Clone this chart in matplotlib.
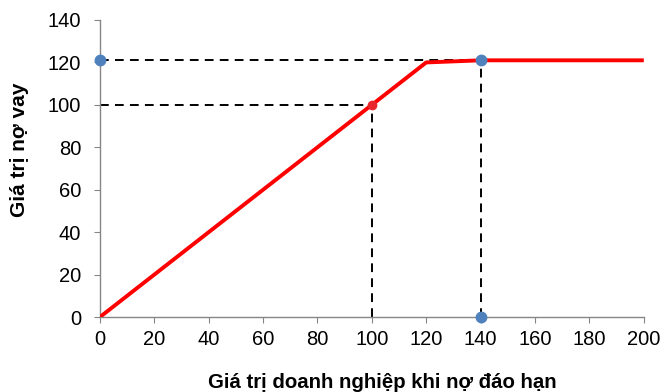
import matplotlib
matplotlib.use("Agg")
import matplotlib.pyplot as plt

plt.rcParams['font.family'] = ['Liberation Sans', 'DejaVu Sans']

line_x = [0, 120, 140, 200]
line_y = [0, 120, 121, 121]
blue_x = [0, 140, 140]
blue_y = [121, 121, 0]
red_pt = (100, 100)
guide_hi = 121
guide_lo = 100
x_ticks = [0, 20, 40, 60, 80, 100, 120, 140, 160, 180, 200]
y_ticks = [0, 20, 40, 60, 80, 100, 120, 140]

fig = plt.figure(figsize=(6.61, 3.92), dpi=100)
ax = fig.add_axes([0.151, 0.191, 0.823, 0.758])

dash = (0, (4.5, 3.2))
ax.plot([0, 140], [guide_hi, guide_hi], ls=dash, color='black', lw=1.4, zorder=2)
ax.plot([140, 140], [0, guide_hi], ls=dash, color='black', lw=1.4, zorder=2)
ax.plot([0, red_pt[0]], [guide_lo, guide_lo], ls=dash, color='black', lw=1.4, zorder=2)
ax.plot([red_pt[0], red_pt[0]], [0, guide_lo], ls=dash, color='black', lw=1.4, zorder=2)

ax.plot(line_x, line_y, color='#ff0000', lw=2.8, zorder=3, solid_capstyle='butt')
ax.plot([red_pt[0]], [red_pt[1]], 'o', color='#e8262b', ms=6, zorder=4)
ax.plot(blue_x, blue_y, 'o', color='#4f81bd', ms=7.5, ls='none', zorder=5, clip_on=False)

ax.set_xlim(0, 200)
ax.set_ylim(0, 140)
ax.set_xticks(x_ticks)
ax.set_yticks(y_ticks)
for s in ['top', 'right']:
    ax.spines[s].set_visible(False)
for s in ['left', 'bottom']:
    ax.spines[s].set_color('#868686')
    ax.spines[s].set_linewidth(1.0)
ax.tick_params(direction='out', length=4.5, color='#868686', labelsize=14.5)
ax.tick_params(axis='x', pad=5)
ax.tick_params(axis='y', pad=9)

fig.text(382 / 661, (392 - 388) / 392, 'Giá trị doanh nghiệp khi nợ đáo hạn',
         fontsize=14.7, fontweight='bold', ha='center', va='baseline')
fig.text(20 / 661, (392 - 150) / 392, 'Giá trị nợ vay',
         fontsize=15, fontweight='bold', ha='center', va='center', rotation=90)

fig.savefig('out.png', dpi=100)
